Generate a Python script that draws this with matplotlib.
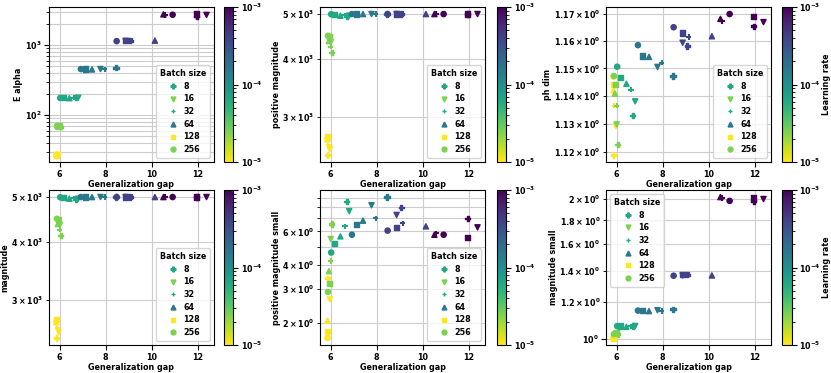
import matplotlib
matplotlib.use('Agg')
import matplotlib.pyplot as plt
from matplotlib.colors import LogNorm
from matplotlib.lines import Line2D

# rows: batch size, columns: learning rate
batch_sizes = [8, 16, 32, 64, 128, 256]
markers = ['P', 'v', '+', '^', 's', 'o']
learning_rates = [1e-5, 2.5e-5, 6.3e-5, 1.6e-4, 4e-4, 1e-3]
legend_lr = [6.3e-5, 2.5e-5, 6.3e-5, 1.6e-4, 1e-5, 2.5e-5]

gen_gap = [
    [5.86, 6.05, 6.70, 8.44, 9.06, 11.95],
    [5.96, 6.00, 6.80, 7.77, 8.86, 12.37],
    [5.90, 6.00, 6.62, 7.95, 9.13, 10.58],
    [5.86, 5.92, 6.42, 7.40, 10.13, 10.50],
    [5.87, 5.96, 6.17, 7.12, 8.84, 11.92],
    [5.86, 5.88, 6.02, 6.92, 8.47, 10.90],
]
e_alpha = [
    [27, 68, 180, 475, 1150, 2560],
    [27, 69, 177, 455, 1150, 2700],
    [27, 68, 178, 450, 1150, 2700],
    [27, 69, 175, 450, 1160, 2750],
    [27, 70, 177, 455, 1150, 2780],
    [27, 70, 176, 455, 1140, 2720],
]
positive_magnitude = [
    [2490, 4135, 4940, 5000, 5000, 5000],
    [2560, 4350, 4960, 5000, 5000, 5000],
    [2610, 4250, 4965, 5000, 5000, 5000],
    [2690, 4376, 4960, 5000, 5000, 5000],
    [2730, 4480, 4990, 5000, 5000, 5000],
    [2700, 4490, 4995, 5000, 5000, 5000],
]
ph_dim = [
    [1.1188, 1.1225, 1.1329, 1.1472, 1.1582, 1.1655],
    [1.1291, 1.1297, 1.1380, 1.1505, 1.1594, 1.1670],
    [1.1364, 1.1364, 1.1422, 1.1520, 1.1615, 1.1673],
    [1.1420, 1.1408, 1.1444, 1.1542, 1.1618, 1.1682],
    [1.1441, 1.1441, 1.1468, 1.1545, 1.1630, 1.1691],
    [1.1470, 1.1472, 1.1506, 1.1585, 1.1651, 1.1700],
]
magnitude = [
    [2490, 4135, 4940, 5000, 5000, 5000],
    [2560, 4350, 4960, 5000, 5000, 5000],
    [2610, 4250, 4965, 5000, 5000, 5000],
    [2690, 4376, 4960, 5000, 5000, 5000],
    [2730, 4480, 4990, 5000, 5000, 5000],
    [2700, 4490, 4995, 5000, 5000, 5000],
]
positive_magnitude_small = [
    [3.42, 6.55, 8.57, 9.05, 7.98, 7.00],
    [2.65, 5.47, 7.64, 8.20, 7.30, 6.29],
    [1.75, 4.20, 6.37, 7.03, 6.60, 5.85],
    [2.06, 3.72, 5.65, 6.82, 6.37, 5.76],
    [1.81, 3.20, 5.20, 6.49, 6.29, 5.59],
    [1.67, 2.90, 4.65, 5.76, 6.05, 5.76],
]
magnitude_small = [
    [1.008, 1.025, 1.066, 1.158, 1.375, 1.980],
    [1.012, 1.030, 1.066, 1.153, 1.370, 2.000],
    [1.010, 1.028, 1.064, 1.149, 1.374, 2.010],
    [1.010, 1.022, 1.062, 1.148, 1.370, 2.020],
    [1.005, 1.027, 1.066, 1.151, 1.375, 2.010],
    [1.006, 1.024, 1.066, 1.151, 1.368, 1.982],
]

plt.rcParams['font.size'] = 5.8
plt.rcParams['font.weight'] = 'bold'
plt.rcParams['axes.labelweight'] = 'bold'

cmap = plt.get_cmap('viridis_r')
norm = LogNorm(1e-5, 1e-3)

W, H = 831, 373
fig = plt.figure(figsize=(W / 100, H / 100), dpi=100)


def panel(col, row, y, ylabel, loc, cbar_label=None):
    lefts = [49, 320, 606]
    cb_lefts = [224, 497, 782]
    tops = [7, 190]
    ax = fig.add_axes([lefts[col] / W, 1 - (tops[row] + 155) / H, 165 / W, 155 / H])
    cax = fig.add_axes([cb_lefts[col] / W, 1 - (tops[row] + 155) / H, 9.5 / W, 155 / H])
    for i in range(len(batch_sizes)):
        ax.scatter(gen_gap[i], y[i], c=learning_rates, cmap=cmap, norm=norm,
                   marker=markers[i], s=14, zorder=3)
    ax.set_yscale('log')
    ax.set_axisbelow(True)
    ax.grid(True, which='both', color='#cccccc', lw=0.8)
    ax.set_xticks([6, 8, 10, 12])
    ax.set_xlabel('Generalization gap', labelpad=1)
    ax.set_ylabel(ylabel, labelpad=1)
    ax.tick_params(which='both', pad=2)

    handles = [Line2D([], [], ls='', marker=markers[i], ms=3.5,
                      color=cmap(norm(legend_lr[i]))) for i in range(len(batch_sizes))]
    leg = ax.legend(handles, [str(b) for b in batch_sizes], title='Batch size',
                    loc=loc, fontsize=5.8, handletextpad=0.3, borderpad=0.5,
                    labelspacing=0.45)
    leg.get_title().set_fontweight('bold')

    sm = plt.cm.ScalarMappable(norm=norm, cmap=cmap)
    cb = fig.colorbar(sm, cax=cax)
    cb.ax.tick_params(pad=2)
    if cbar_label:
        cb.set_label(cbar_label, labelpad=1)
    return ax


panel(0, 0, e_alpha, 'E alpha', 'lower right')
panel(1, 0, positive_magnitude, 'positive magnitude', 'lower right')
panel(2, 0, ph_dim, 'ph dim', 'lower right', 'Learning rate')
panel(0, 1, magnitude, 'magnitude', 'lower right')
panel(1, 1, positive_magnitude_small, 'positive magnitude small', 'lower right')
panel(2, 1, magnitude_small, 'magnitude small', 'upper left', 'Learning rate')

fig.savefig('out.png', dpi=100)
